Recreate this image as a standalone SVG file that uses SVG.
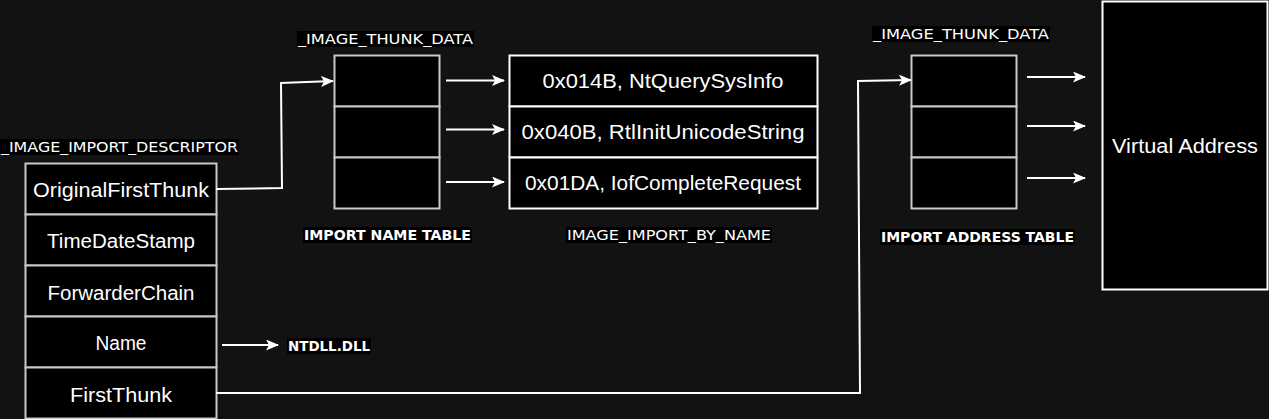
<svg xmlns="http://www.w3.org/2000/svg" width="1269" height="419" viewBox="0 0 1269 419">
<style>
.bg{fill:#121212}
.cell{fill:#000;stroke:#c8c8c8;stroke-width:2}
.wcell{fill:#000;stroke:#fff;stroke-width:2}
.t{font-family:"Liberation Sans","DejaVu Sans",sans-serif;font-size:20px;fill:#fff;text-anchor:middle}
.lbl{font-family:"DejaVu Sans","Liberation Sans",sans-serif;font-size:14px;fill:#fff}
.blbl{font-family:"DejaVu Sans","Liberation Sans",sans-serif;font-size:14px;font-weight:bold;fill:#fff}
.lbg{fill:#000}
.con{fill:none;stroke:#fff;stroke-width:2;marker-end:url(#ah)}
</style>
<defs>
<marker id="ah" markerWidth="13" markerHeight="11" refX="12" refY="5.5" orient="auto" markerUnits="userSpaceOnUse">
<path d="M0,0 L13,5.5 L0,11 L3,5.5 z" fill="#fff"/>
</marker>
</defs>
<rect class="bg" x="0" y="0" width="1269" height="419"/>

<g id="import-descriptor">
<rect class="lbg" x="0" y="139" width="239" height="16"/>
<text class="lbl" x="1" y="152" textLength="237" lengthAdjust="spacingAndGlyphs">_IMAGE_IMPORT_DESCRIPTOR</text>
<rect class="cell" x="25.5" y="163.5" width="191" height="51"/>
<rect class="cell" x="25.5" y="214.5" width="191" height="51"/>
<rect class="cell" x="25.5" y="265.5" width="191" height="51"/>
<rect class="cell" x="25.5" y="316.5" width="191" height="51"/>
<rect class="cell" x="25.5" y="367.5" width="191" height="51"/>
<text class="t" x="121" y="197" textLength="176" lengthAdjust="spacingAndGlyphs">OriginalFirstThunk</text>
<text class="t" x="121" y="248" textLength="148" lengthAdjust="spacingAndGlyphs">TimeDateStamp</text>
<text class="t" x="121" y="300" textLength="147" lengthAdjust="spacingAndGlyphs">ForwarderChain</text>
<text class="t" x="121" y="350" textLength="51" lengthAdjust="spacingAndGlyphs">Name</text>
<text class="t" x="121" y="402" textLength="102" lengthAdjust="spacingAndGlyphs">FirstThunk</text>
</g>

<g id="import-name-table">
<rect class="lbg" x="297" y="31" width="177" height="16"/>
<text class="lbl" x="298" y="44" textLength="175" lengthAdjust="spacingAndGlyphs">_IMAGE_THUNK_DATA</text>
<rect class="cell" x="334.5" y="55.5" width="105" height="51"/>
<rect class="cell" x="334.5" y="106.5" width="105" height="51"/>
<rect class="cell" x="334.5" y="157.5" width="105" height="51"/>
<rect class="lbg" x="303" y="227" width="169" height="16"/>
<text class="blbl" x="304" y="240" textLength="167" lengthAdjust="spacingAndGlyphs">IMPORT NAME TABLE</text>
</g>

<g id="import-by-name">
<rect class="wcell" x="509.5" y="55.5" width="308" height="51"/>
<rect class="wcell" x="509.5" y="106.5" width="308" height="51"/>
<rect class="wcell" x="509.5" y="157.5" width="308" height="51"/>
<text class="t" x="663" y="88" textLength="241" lengthAdjust="spacingAndGlyphs">0x014B, NtQuerySysInfo</text>
<text class="t" x="663" y="139" textLength="283" lengthAdjust="spacingAndGlyphs">0x040B, RtlInitUnicodeString</text>
<text class="t" x="663" y="190" textLength="276" lengthAdjust="spacingAndGlyphs">0x01DA, IofCompleteRequest</text>
<rect class="lbg" x="566" y="227" width="206" height="16"/>
<text class="lbl" x="567" y="240" textLength="204" lengthAdjust="spacingAndGlyphs">IMAGE_IMPORT_BY_NAME</text>
</g>

<g id="import-address-table">
<rect class="lbg" x="872" y="26" width="178" height="16"/>
<text class="lbl" x="873" y="39" textLength="176" lengthAdjust="spacingAndGlyphs">_IMAGE_THUNK_DATA</text>
<rect class="cell" x="911.5" y="55.5" width="105" height="51"/>
<rect class="cell" x="911.5" y="106.5" width="105" height="51"/>
<rect class="cell" x="911.5" y="157.5" width="105" height="51"/>
<rect class="lbg" x="880" y="229" width="195" height="16"/>
<text class="blbl" x="881" y="242" textLength="193" lengthAdjust="spacingAndGlyphs">IMPORT ADDRESS TABLE</text>
</g>

<g id="virtual-address">
<rect class="wcell" x="1102.5" y="1.5" width="165" height="288"/>
<text class="t" x="1185" y="153" textLength="146" lengthAdjust="spacingAndGlyphs">Virtual Address</text>
</g>

<g id="ntdll">
<rect class="lbg" x="287" y="338" width="84" height="16"/>
<text class="blbl" x="288" y="351" textLength="82" lengthAdjust="spacingAndGlyphs">NTDLL.DLL</text>
</g>

<g id="connectors">
<path class="con" d="M216,189 L282,188 L281,83 L333,81"/>
<path class="con" d="M216,393 L860,393 L858,81 L911,80"/>
<path class="con" d="M222,345 L278,345"/>
<path class="con" d="M446,80.5 L504,80.5"/>
<path class="con" d="M446,129.5 L504,129.5"/>
<path class="con" d="M446,182 L504,182"/>
<path class="con" d="M1027,77 L1085,77"/>
<path class="con" d="M1027,126 L1085,126"/>
<path class="con" d="M1027,178 L1085,178"/>
</g>
</svg>
